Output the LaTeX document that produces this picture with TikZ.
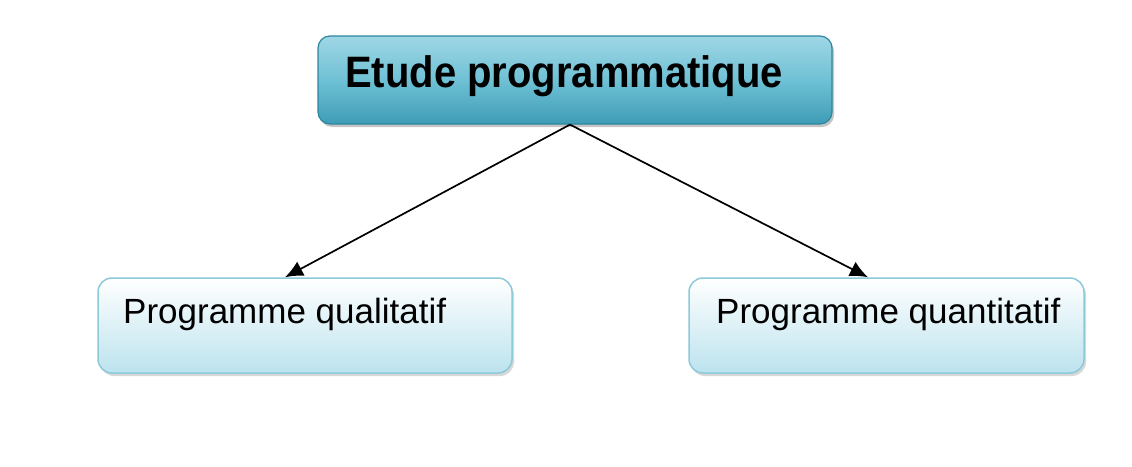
\documentclass[tikz,border=0pt]{standalone}
\usepackage{fontspec}
\setmainfont{Liberation Sans}
\usetikzlibrary{arrows.meta,shadows}
\definecolor{topborder}{HTML}{2E86A0}
\definecolor{toptop}{HTML}{9FD7E5}
\definecolor{topmid}{HTML}{6FC1D5}
\definecolor{topbot}{HTML}{3E9CB6}
\definecolor{subborder}{HTML}{8CC9D9}
\definecolor{subbot}{HTML}{BCE3EE}
\tikzset{
  mainbox/.style={draw=topborder, line width=1.2pt, rounded corners=12pt,
    top color=toptop, bottom color=topbot, middle color=topmid,
    drop shadow={shadow xshift=2pt, shadow yshift=-3pt, opacity=0.45},
    minimum width=514pt, minimum height=88pt, inner sep=0pt},
  subbox/.style={draw=subborder, line width=1.5pt, rounded corners=14pt,
    top color=white, bottom color=subbot,
    drop shadow={shadow xshift=2pt, shadow yshift=-3pt, opacity=0.3},
    minimum height=95pt, inner sep=0pt},
  maintext/.style={font=\fontsize{40}{48}\selectfont\bfseries, inner sep=0pt, anchor=base west},
  subtext/.style={font=\fontsize{35}{40}\selectfont, inner sep=0pt, anchor=base west},
  link/.style={line width=1.7pt, -{Latex[length=18pt,width=16pt]}}
}
\begin{document}
\begin{tikzpicture}[x=1pt,y=-1pt]
\useasboundingbox[fill=white] (0,0) rectangle (1132,466);
\node[mainbox] (top) at (575,80) {};
\node[maintext, yscale=1.1] (toplabel) at (345,87) {Etude programmatique};
\node[subbox, minimum width=414pt] (left) at (305,325.5) {};
\node[subtext] (leftlabel) at (123,323) {Programme qualitatif};
\node[subbox, minimum width=395pt] (right) at (886.5,325.5) {};
\node[subtext] (rightlabel) at (716,323) {Programme quantitatif};
\draw[link] ([xshift=-5pt]top.south) -- ([xshift=-20pt]left.north);
\draw[link] ([xshift=-5pt]top.south) -- ([xshift=-18.5pt]right.north);
\end{tikzpicture}
\end{document}
